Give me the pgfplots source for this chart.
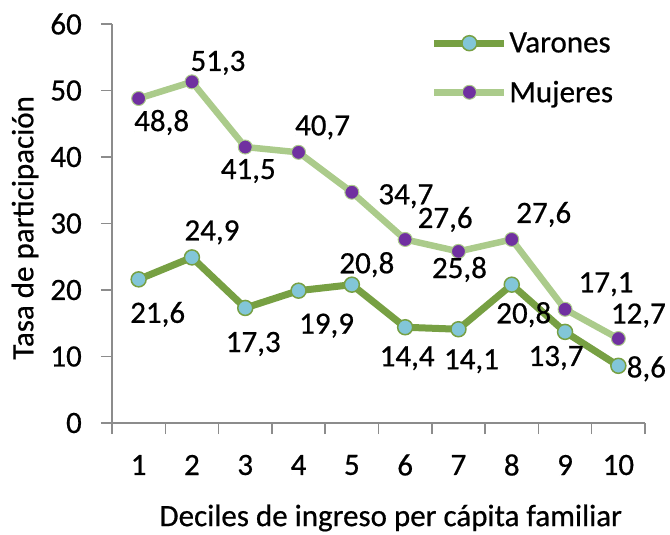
\documentclass[border=0pt]{standalone}
\usepackage{fontspec}
\setmainfont[FakeBold=0.6,AutoFakeBold=0.6]{Carlito}
\usepackage{pgfplots}
\usepackage{pgfplotstable}
\pgfplotsset{compat=1.18}
\definecolor{varline}{HTML}{77A043}
\definecolor{mujline}{HTML}{ABCB8B}
\definecolor{varfill}{HTML}{82C6D8}
\definecolor{mujfill}{HTML}{7030A0}
\definecolor{axgray}{HTML}{8C8C8C}
\newcommand{\chartfont}{\fontsize{31bp}{37bp}\selectfont}

\pgfplotstableread{
x y dx dy lab
1 21.6 19 -33 21,6
2 24.9 20 27 24,9
3 17.3 8 -34 17,3
4 19.9 28 -33 19,9
5 20.8 15 22 20,8
6 14.4 2 -29 14,4
7 14.1 13 -30 14,1
8 20.8 12 -28 20,8
9 13.7 -9 -24 13,7
10 8.6 28 -1 8,6
}\varones

\pgfplotstableread{
x y dx dy lab
1 48.8 23 -22 48,8
2 51.3 26 21 51,3
3 41.5 3 -22 41,5
4 40.7 24 27 40,7
5 34.7 54 -2 34,7
6 27.6 40 22 27,6
7 25.8 1 -16 25,8
8 27.6 32 27 27,6
9 17.1 41 27 17,1
10 12.7 20 25 12,7
}\mujeres

\begin{document}
\begin{tikzpicture}
\begin{axis}[
  scale only axis, width=533bp, height=399bp,
  at={(0,0)}, anchor=south west,
  clip=false,
  xmin=0.5, xmax=10.5, ymin=0, ymax=60,
  axis x line*=bottom, axis y line*=left,
  axis line style={draw=axgray, line width=1.5bp, -},
  xtick={1,...,10}, ytick={0,10,...,60},
  minor xtick={0.5,1.5,...,10.5}, minor ytick={0,10,...,60},
  major tick length=0pt, minor tick length=11bp,
  tick align=outside,
  minor tick style={draw=axgray, line width=1.5bp},
  /pgf/number format/assume math mode=true,
  tick label style={font=\chartfont, text=black, inner sep=0pt},
  xticklabel style={anchor=center, yshift=-42bp},
  yticklabel style={anchor=east, xshift=-30bp},
  xlabel={Deciles de ingreso per cápita familiar},
  ylabel={Tasa de participación},
  every axis x label/.style={at={(rel axis cs:0.523,0)}, anchor=center, yshift=-95bp, font=\chartfont},
  every axis y label/.style={at={(rel axis cs:0,0.489)}, anchor=center, xshift=-87bp, rotate=90, font=\chartfont},
  legend cell align=left,
  legend style={draw=none, fill=none, font=\chartfont, at={(rel axis cs:0.598,0.983)}, anchor=north west, inner sep=0pt, row sep=24bp, nodes={inner sep=1.5bp}},
  legend image code/.code={\draw[mark repeat=2,mark phase=2,#1] plot coordinates {(0bp,0bp) (35bp,0bp) (70bp,0bp)};},
]
\addplot[varline, line width=7bp, mark=*, mark size=7.5bp,
  mark options={fill=varfill, draw=varline, line width=1.5bp},
  nodes near coords, point meta=explicit symbolic,
  visualization depends on={\thisrow{dx}\as\mydx},
  visualization depends on={\thisrow{dy}\as\mydy},
  nodes near coords style={font=\chartfont, text=black, anchor=center, inner sep=0pt, text depth=0pt, xshift=\mydx bp, yshift=\mydy bp}]
  table[x=x, y=y, meta=lab]{\varones};
\addlegendentry{Varones}
\addplot[mujline, line width=6.5bp, mark=*, mark size=7bp,
  mark options={fill=mujfill, draw=mujline, line width=1bp},
  nodes near coords, point meta=explicit symbolic,
  visualization depends on={\thisrow{dx}\as\mydx},
  visualization depends on={\thisrow{dy}\as\mydy},
  nodes near coords style={font=\chartfont, text=black, anchor=center, inner sep=0pt, text depth=0pt, xshift=\mydx bp, yshift=\mydy bp}]
  table[x=x, y=y, meta=lab]{\mujeres};
\addlegendentry{Mujeres}
\end{axis}
\pgfresetboundingbox
\path (-112bp,-112bp) rectangle (558bp,423bp);
\end{tikzpicture}
\end{document}
